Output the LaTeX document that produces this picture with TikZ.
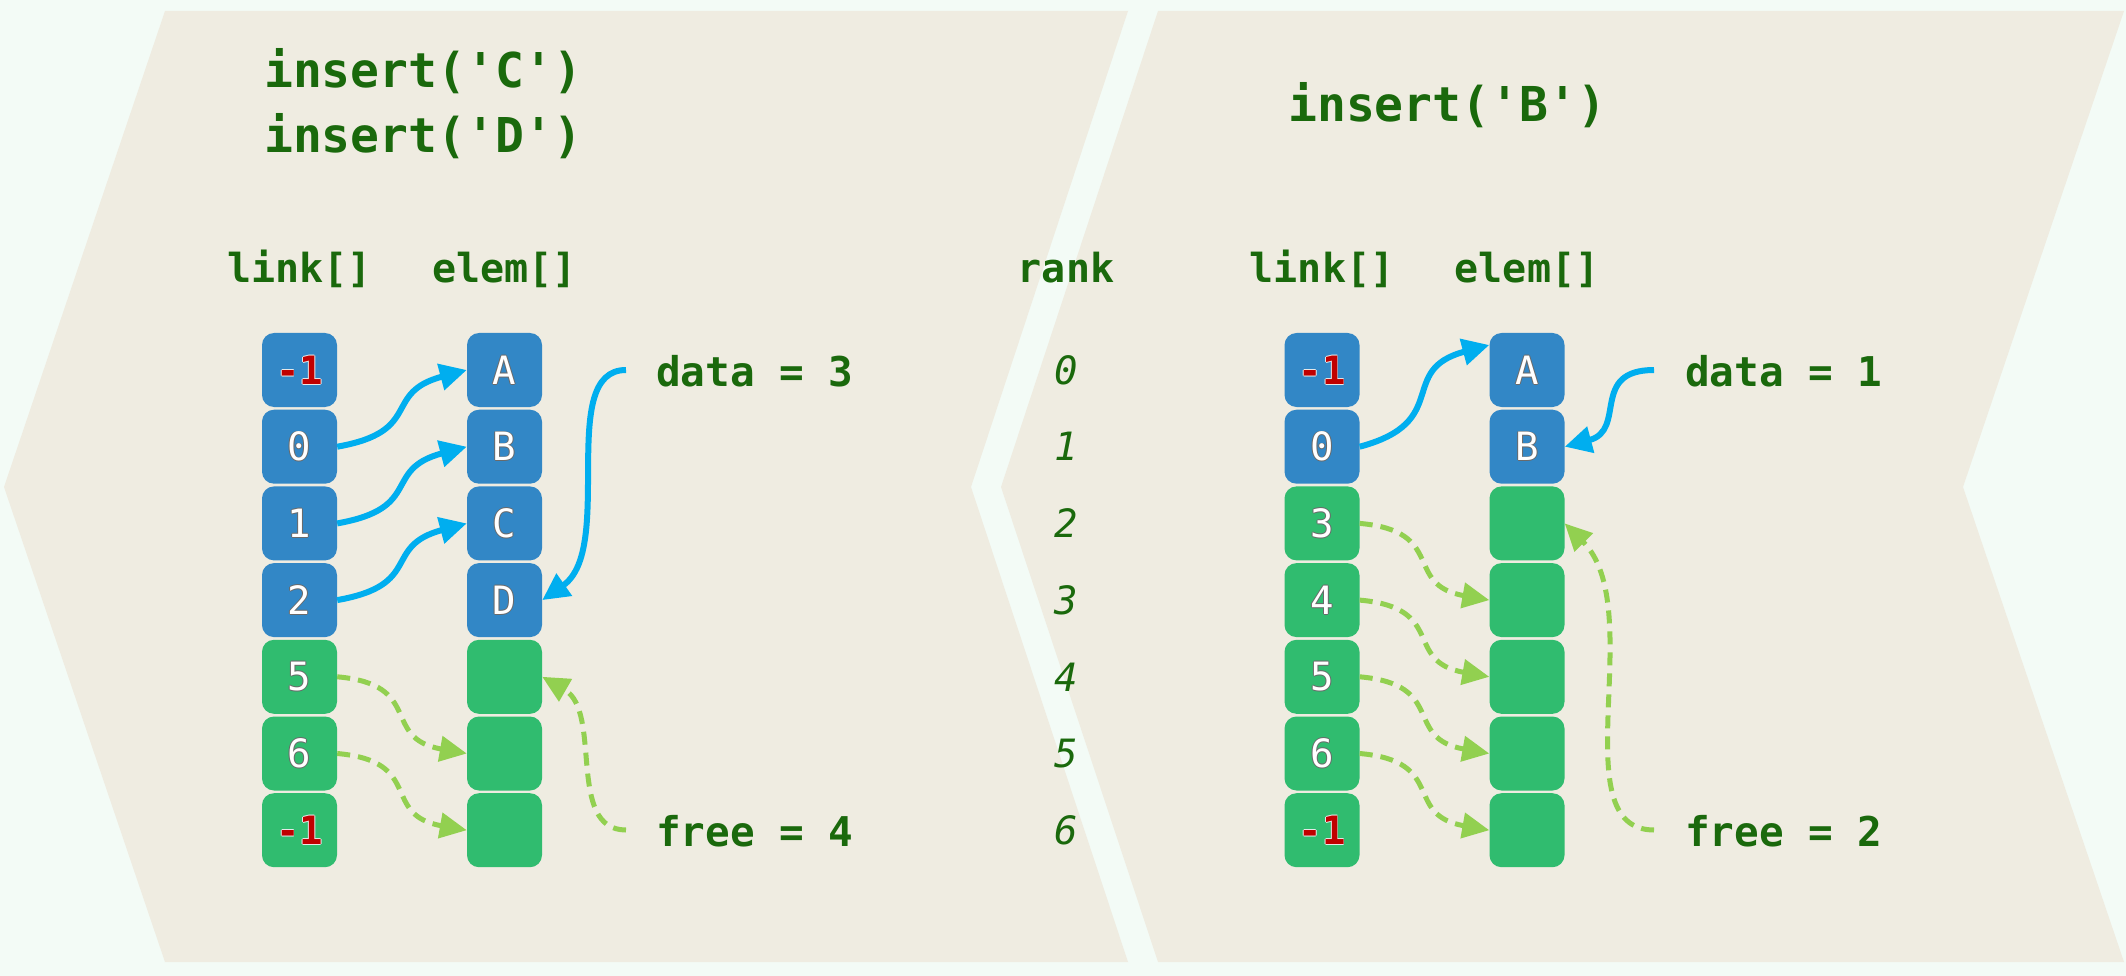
\documentclass[tikz,border=0pt]{standalone}
\usepackage{fontspec}
\usetikzlibrary{arrows.meta,calc}
\newfontfamily\monofam{DejaVu Sans Mono}
\newcommand\codefont{\monofam\bfseries\fontsize{48}{56}\selectfont}
\newcommand\headfont{\monofam\bfseries\fontsize{40}{48}\selectfont}
\newcommand\varfont{\monofam\bfseries\fontsize{41}{48}\selectfont}
\newcommand\lblfont{\monofam\fontsize{39}{44}\selectfont}
\newcommand\rankfont{\monofam\itshape\fontsize{39}{44}\selectfont}
\definecolor{bgmint}{HTML}{F3FBF6}
\definecolor{panel}{HTML}{EFECE1}
\definecolor{txtgreen}{HTML}{1A690C}
\definecolor{boxblue}{HTML}{3287C6}
\definecolor{boxgreen}{HTML}{30BC6F}
\definecolor{negred}{HTML}{C00000}
\definecolor{arrblue}{HTML}{00AEEF}
\definecolor{arrgreen}{HTML}{92D050}
\definecolor{olgray}{HTML}{6A6A6A}
\definecolor{ollight}{HTML}{E8E8E8}
% text with a thin outline: #1 outline colour, #2 fill colour, #3 text
\newcommand\outl[3]{\leavevmode
  \rlap{\raisebox{0.8pt}{\textcolor{#1}{#3}}}%
  \rlap{\raisebox{-0.8pt}{\textcolor{#1}{#3}}}%
  \rlap{\hspace{0.8pt}\textcolor{#1}{#3}}%
  \rlap{\hspace{-0.8pt}\textcolor{#1}{#3}}%
  \textcolor{#2}{#3}}
\newcommand\wl[1]{\outl{olgray}{white}{#1}}
\newcommand\neglbl{{\bfseries\outl{ollight}{negred}{-1}}}
\begin{document}
\begin{tikzpicture}[x=1pt,y=-1pt,
  cellb/.style={rounded corners=12pt, minimum width=75pt, minimum height=74pt,
    inner sep=0pt, fill=boxblue, text=white, font=\lblfont},
  cellg/.style={cellb, fill=boxgreen},
  barrow/.style={draw=arrblue, line width=6pt, -{Triangle[length=27pt,width=26pt]}},
  garrow/.style={draw=arrgreen, line width=5pt, dash pattern=on 13pt off 8pt,
    -{Triangle[length=27pt,width=25pt]}},
  codetxt/.style={font=\codefont, text=txtgreen, inner sep=0pt, anchor=base west},
  headtxt/.style={font=\headfont, text=txtgreen, inner sep=0pt, anchor=base},
  vartxt/.style={font=\varfont, text=txtgreen, inner sep=0pt, anchor=base west},
  ranktxt/.style={font=\rankfont, text=txtgreen, inner sep=0pt}
]
\useasboundingbox (0,0) rectangle (2126,976);
\fill[bgmint] (0,0) rectangle (2126,976);
% panels
\fill[panel] (165,11) -- (1128,11) -- (971,487) -- (1128,962) -- (165,962) -- (4,487) -- cycle;
\fill[panel] (1158,11) -- (2124,11) -- (1963,487) -- (2124,962) -- (1158,962) -- (1001,487) -- cycle;

% ---------- left panel ----------
\node[codetxt] (insC) at (264,88) {insert('C')};
\node[codetxt] (insD) at (264,153) {insert('D')};
\node[headtxt] (hlinkL) at (299.5,283) {link[]};
\node[headtxt] (helemL) at (504.5,283) {elem[]};

\node[cellb] (L0) at (299.5,370)   {\neglbl};
\node[cellb] (L1) at (299.5,446.7) {\wl{0}};
\node[cellb] (L2) at (299.5,523.4) {\wl{1}};
\node[cellb] (L3) at (299.5,600.1) {\wl{2}};
\node[cellg] (L4) at (299.5,676.8) {\wl{5}};
\node[cellg] (L5) at (299.5,753.5) {\wl{6}};
\node[cellg] (L6) at (299.5,830.2) {\neglbl};

\node[cellb] (E0) at (504.5,370)   {\wl{A}};
\node[cellb] (E1) at (504.5,446.7) {\wl{B}};
\node[cellb] (E2) at (504.5,523.4) {\wl{C}};
\node[cellb] (E3) at (504.5,600.1) {\wl{D}};
\node[cellg] (E4) at (504.5,676.8) {};
\node[cellg] (E5) at (504.5,753.5) {};
\node[cellg] (E6) at (504.5,830.2) {};

\node[vartxt] (dataL) at (656,386) {data = 3};
\node[vartxt] (freeL) at (656,846) {free = 4};
\coordinate (dLs) at (626,370);
\coordinate (fLs) at (626,830);

\draw[barrow] (L1.east) to[out=10,in=195,looseness=1.5] (E0.west);
\draw[barrow] (L2.east) to[out=10,in=195,looseness=1.5] (E1.west);
\draw[barrow] (L3.east) to[out=10,in=195,looseness=1.5] (E2.west);
\draw[barrow] (dLs) to[out=180,in=35,out distance=70pt,in distance=90pt] (E3.east);
\draw[garrow] (L4.east) to[out=-5,in=170,looseness=1.5] (E5.west);
\draw[garrow] (L5.east) to[out=-5,in=170,looseness=1.5] (E6.west);
\draw[garrow] (fLs) to[out=180,in=-30,out distance=60pt,in distance=70pt] (E4.east);

% ---------- rank ----------
\node[headtxt] (hrank) at (1066,283) {rank};
\node[ranktxt] (R0) at (1066,370)   {0};
\node[ranktxt] (R1) at (1066,446.7) {1};
\node[ranktxt] (R2) at (1066,523.4) {2};
\node[ranktxt] (R3) at (1066,600.1) {3};
\node[ranktxt] (R4) at (1066,676.8) {4};
\node[ranktxt] (R5) at (1066,753.5) {5};
\node[ranktxt] (R6) at (1066,830.2) {6};

% ---------- right panel ----------
\node[codetxt] (insB) at (1288,122) {insert('B')};
\node[headtxt] (hlinkR) at (1322,283) {link[]};
\node[headtxt] (helemR) at (1527,283) {elem[]};

\node[cellb] (RL0) at (1322,370)   {\neglbl};
\node[cellb] (RL1) at (1322,446.7) {\wl{0}};
\node[cellg] (RL2) at (1322,523.4) {\wl{3}};
\node[cellg] (RL3) at (1322,600.1) {\wl{4}};
\node[cellg] (RL4) at (1322,676.8) {\wl{5}};
\node[cellg] (RL5) at (1322,753.5) {\wl{6}};
\node[cellg] (RL6) at (1322,830.2) {\neglbl};

\node[cellb] (RE0) at (1527,370)   {\wl{A}};
\node[cellb] (RE1) at (1527,446.7) {\wl{B}};
\node[cellg] (RE2) at (1527,523.4) {};
\node[cellg] (RE3) at (1527,600.1) {};
\node[cellg] (RE4) at (1527,676.8) {};
\node[cellg] (RE5) at (1527,753.5) {};
\node[cellg] (RE6) at (1527,830.2) {};

\node[vartxt] (dataR) at (1685,386) {data = 1};
\node[vartxt] (freeR) at (1685,846) {free = 2};
\coordinate (dRs) at (1654,370);
\coordinate (fRs) at (1654,830);
\coordinate (RE0in) at ($(RE0.west)+(0,-25)$);

\draw[barrow] (RL1.east) to[out=15,in=195,looseness=1.5] (RE0in);
\draw[barrow] (dRs) to[out=180,in=15,looseness=1.4] (RE1.east);
\draw[garrow] (RL2.east) to[out=-5,in=170,looseness=1.5] (RE3.west);
\draw[garrow] (RL3.east) to[out=-5,in=170,looseness=1.5] (RE4.west);
\draw[garrow] (RL4.east) to[out=-5,in=170,looseness=1.5] (RE5.west);
\draw[garrow] (RL5.east) to[out=-5,in=170,looseness=1.5] (RE6.west);
\draw[garrow] (fRs) to[out=180,in=-45,out distance=94pt,in distance=120pt] (RE2.east);
\end{tikzpicture}
\end{document}
